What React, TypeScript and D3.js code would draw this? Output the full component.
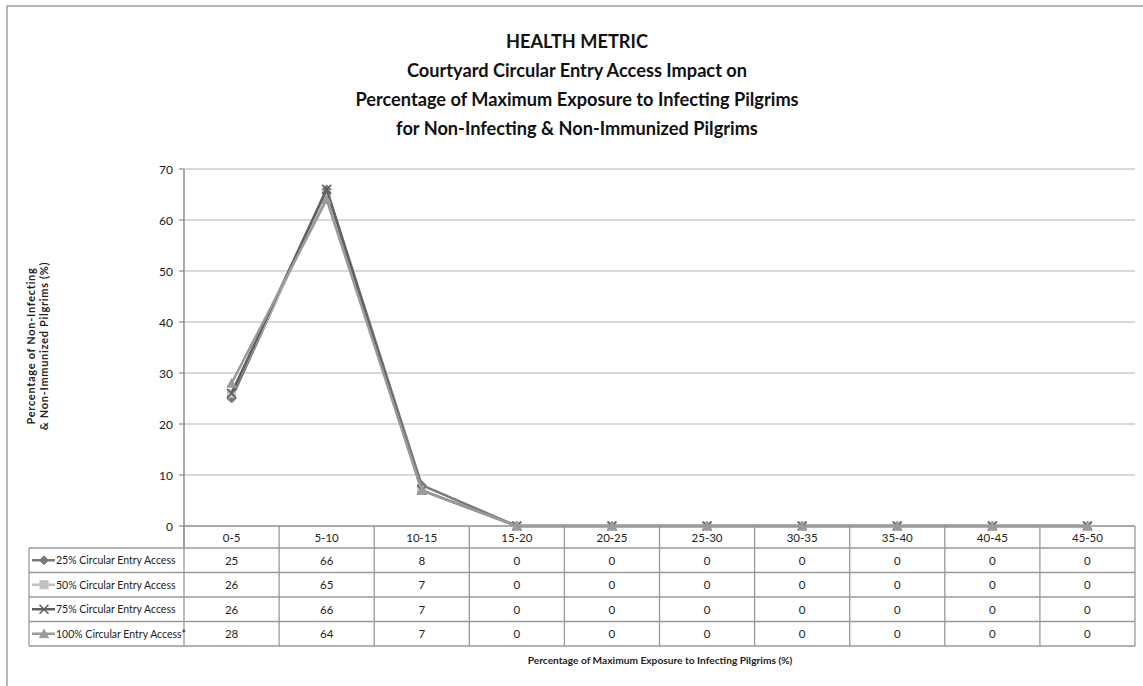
import React from "react";
import * as d3 from "d3";

const categories = ["0-5", "5-10", "10-15", "15-20", "20-25", "25-30", "30-35", "35-40", "40-45", "45-50"];
const seriesNames = [
  "25% Circular Entry Access",
  "50% Circular Entry Access",
  "75% Circular Entry Access",
  "100% Circular Entry Access*",
];
const s25 = [25, 66, 8, 0, 0, 0, 0, 0, 0, 0];
const s50 = [26, 65, 7, 0, 0, 0, 0, 0, 0, 0];
const s75 = [26, 66, 7, 0, 0, 0, 0, 0, 0, 0];
const s100 = [28, 64, 7, 0, 0, 0, 0, 0, 0, 0];
const seriesValues = [s25, s50, s75, s100];
const seriesColors = ["#7a7a7a", "#c2c2c2", "#606060", "#9a9a9a"];
const seriesMarkers = ["diamond", "square", "x", "triangle"];
const yTicks = [0, 10, 20, 30, 40, 50, 60, 70];
const titleLines = [
  "HEALTH METRIC",
  "Courtyard Circular Entry Access Impact on",
  "Percentage of Maximum Exposure to Infecting Pilgrims",
  "for Non-Infecting & Non-Immunized Pilgrims",
];
const yTitleLines = ["Percentage of Non-Infecting", "& Non-Immunized Pilgrims (%)"];
const xTitle = "Percentage of Maximum Exposure to Infecting Pilgrims (%)";

const W = 1143;
const H = 686;
const plotL = 184;
const plotR = 1135;
const plotT = 169;
const plotB = 526;
const tableL = 29;
const rowBounds = [548, 572.5, 597, 621.5, 646];

const FONT = "Lato, 'Open Sans', sans-serif";

function Marker({ type, x, y, color }: { type: string; x: number; y: number; color: string }) {
  const s = 4.5;
  if (type === "diamond") {
    return <path d={`M${x},${y - s}L${x + s},${y}L${x},${y + s}L${x - s},${y}Z`} fill={color} stroke={color} strokeWidth={1} />;
  }
  if (type === "square") {
    return <rect x={x - s + 0.5} y={y - s + 0.5} width={2 * s - 1} height={2 * s - 1} fill={color} stroke={color} strokeWidth={1} />;
  }
  if (type === "x") {
    return (
      <path d={`M${x - s},${y - s}L${x + s},${y + s}M${x - s},${y + s}L${x + s},${y - s}`} stroke={color} strokeWidth={1.6} fill="none" />
    );
  }
  return <path d={`M${x},${y - s}L${x + s},${y + s - 0.5}L${x - s},${y + s - 0.5}Z`} fill={color} stroke={color} strokeWidth={1} />;
}

export default function App() {
  const x = d3.scaleBand<string>().domain(categories).range([plotL, plotR]).padding(0);
  const y = d3.scaleLinear().domain([0, 70]).range([plotB, plotT]);
  const cx = (c: string) => (x(c) ?? 0) + x.bandwidth() / 2;
  const line = d3
    .line<number>()
    .x((_, i) => cx(categories[i]))
    .y((v) => y(v));

  const colEdges = categories.map((c) => x(c) ?? 0).concat([plotR]);

  return (
    <svg width={W} height={H} style={{ position: "absolute", left: 0, top: 0, background: "#fff" }} fontFamily={FONT}>
      <rect x={7} y={6} width={W + 20} height={H + 20} fill="#fff" stroke="#a0a0a0" strokeWidth={1.5} />

      {titleLines.map((t, i) => (
        <text key={i} x={577} y={41 + i * 29} textAnchor="middle" dominantBaseline="central" fontWeight="bold" fontSize={18.2} fill="#111">
          {t}
        </text>
      ))}

      {/* gridlines */}
      {yTicks.map((t) => (
        <line key={t} x1={plotL} x2={plotR} y1={y(t)} y2={y(t)} stroke={t === 0 ? "#8c8c8c" : "#b4b4b4"} strokeWidth={t === 0 ? 1.5 : 1.2} />
      ))}
      {/* y axis */}
      <line x1={plotL} x2={plotL} y1={plotT} y2={rowBounds[0]} stroke="#8c8c8c" strokeWidth={1.5} />
      {yTicks.map((t) => (
        <g key={t}>
          <line x1={plotL - 5} x2={plotL} y1={y(t)} y2={y(t)} stroke="#8c8c8c" strokeWidth={1.2} />
          <text x={plotL - 11} y={y(t)} textAnchor="end" dominantBaseline="central" fontSize={12} fill="#222">
            {t}
          </text>
        </g>
      ))}

      {/* y title */}
      <g transform={`translate(37,346) rotate(-90)`}>
        {yTitleLines.map((t, i) => (
          <text key={i} x={0} y={-6.5 + i * 13} textAnchor="middle" dominantBaseline="central" fontWeight="bold" fontSize={11} fill="#222" letterSpacing={0.7}>
            {t}
          </text>
        ))}
      </g>

      {/* table */}
      {colEdges.map((e, i) => (
        <line key={i} x1={e} x2={e} y1={plotB} y2={rowBounds[rowBounds.length - 1]} stroke="#999" strokeWidth={1.3} />
      ))}
      <line x1={tableL} x2={tableL} y1={rowBounds[0]} y2={rowBounds[rowBounds.length - 1]} stroke="#999" strokeWidth={1.3} />
      {rowBounds.map((r, i) => (
        <line key={i} x1={tableL} x2={plotR} y1={r} y2={r} stroke="#999" strokeWidth={1.3} />
      ))}
      {categories.map((c) => (
        <text key={c} x={cx(c)} y={(plotB + rowBounds[0]) / 2} textAnchor="middle" dominantBaseline="central" fontSize={11.5} fill="#222">
          {c}
        </text>
      ))}
      {seriesValues.map((vals, si) => {
        const rc = (rowBounds[si] + rowBounds[si + 1]) / 2;
        return (
          <g key={si}>
            <line x1={32} x2={55} y1={rc} y2={rc} stroke={seriesColors[si]} strokeWidth={2.5} />
            <Marker type={seriesMarkers[si]} x={44} y={rc} color={seriesColors[si]} />
            <text x={56} y={rc} dominantBaseline="central" fontSize={10.5} fill="#222">
              {seriesNames[si]}
            </text>
            {vals.map((v, i) => (
              <text key={i} x={cx(categories[i])} y={rc} textAnchor="middle" dominantBaseline="central" fontSize={11.5} fill="#222">
                {v}
              </text>
            ))}
          </g>
        );
      })}

      {/* series */}
      {seriesValues.map((vals, si) => (
        <g key={si}>
          <path d={line(vals) ?? ""} fill="none" stroke={seriesColors[si]} strokeWidth={2.5} strokeLinejoin="round" />
          {vals.map((v, i) => (
            <Marker key={i} type={seriesMarkers[si]} x={cx(categories[i])} y={y(v)} color={seriesColors[si]} />
          ))}
        </g>
      ))}

      <text x={660} y={660} textAnchor="middle" dominantBaseline="central" fontWeight="bold" fontSize={10.2} fill="#222">
        {xTitle}
      </text>
    </svg>
  );
}
